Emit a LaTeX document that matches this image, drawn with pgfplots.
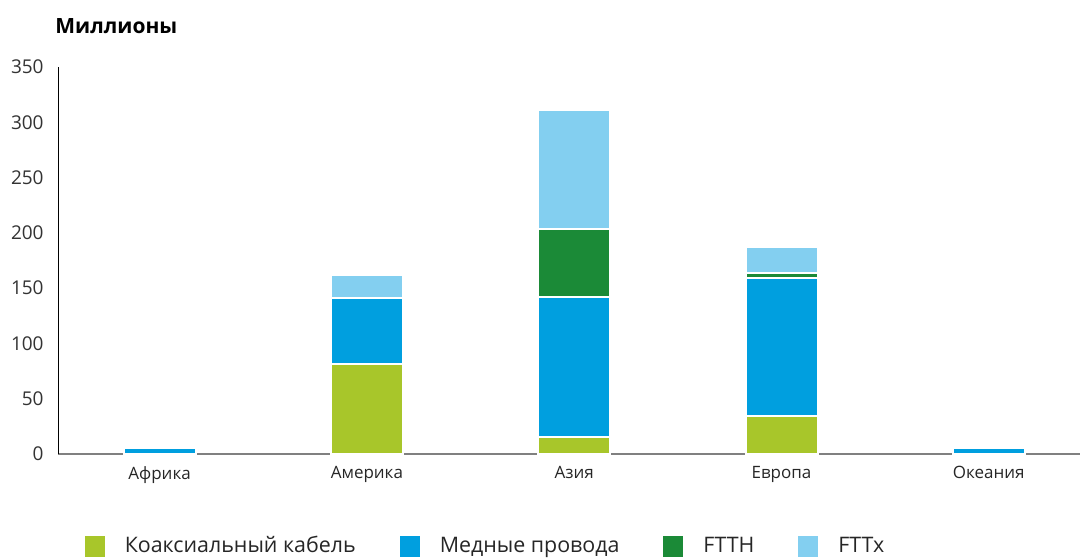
\documentclass[border=0pt]{standalone}
\usepackage{pgfplots}
\pgfplotsset{compat=1.18}
\usepackage{fontspec}
\setmainfont{Open Sans}

\definecolor{coax}{HTML}{A8C62A}
\definecolor{copper}{HTML}{009FDF}
\definecolor{ftth}{HTML}{1B8A37}
\definecolor{fttx}{HTML}{83CFF0}

\begin{document}
\begin{tikzpicture}
\path[use as bounding box] (-29pt,-51.5pt) rectangle (511pt,227pt);
\begin{axis}[
  at={(0,0)}, anchor=south west,
  scale only axis,
  width=511pt, height=193.5pt,
  ybar stacked,
  bar width=36pt,
  xmin=-0.49, xmax=4.44,
  ymin=0, ymax=350,
  ytick={0,50,...,350},
  xtick=data,
  xticklabels={Африка,Америка,Азия,Европа,Океания},
  axis x line*=bottom,
  axis y line*=left,
  x axis line style={draw=gray, line width=1pt},
  y axis line style={draw=black, line width=0.5pt},
  major tick length=0pt,
  tick style={draw=none},
  /pgf/number format/assume math mode=true,
  yticklabel style={font=\fontsize{9.5}{11}\selectfont, text=black!80, inner sep=0pt, xshift=-7pt},
  xticklabel style={font=\fontsize{8.5}{10}\selectfont, text=black!85, inner sep=0pt, yshift=-6pt},
  legend columns=4,
  legend style={draw=none, fill=none, at={(0.018,-0.238)}, anchor=west,
    font=\fontsize{10.7}{12}\selectfont, text=black!85,
    /tikz/every odd column/.append style={column sep=7pt},
    /tikz/every even column/.append style={column sep=19pt}},
  legend image code/.code={\fill[#1] (0pt,-5.75pt) rectangle (11pt,5.75pt);},
  every axis plot/.append style={draw=white, line width=1pt},
]
\addplot[fill=coax] coordinates {(0,0) (1,81) (2,15) (3,34) (4,0)};
\addlegendentry{Коаксиальный кабель}
\addplot[fill=copper] coordinates {(0,5.5) (1,60.5) (2,127) (3,125) (4,5)};
\addlegendentry{Медные провода}
\addplot[fill=ftth] coordinates {(0,0) (1,0) (2,61.5) (3,4.5) (4,0)};
\addlegendentry{FTTH}
\addplot[fill=fttx] coordinates {(0,0) (1,20.5) (2,107.5) (3,23.5) (4,0)};
\addlegendentry{FTTx}
\end{axis}
\node[anchor=west, inner sep=0pt, font=\bfseries\fontsize{10.5}{12}\selectfont] at (-1.5pt,214pt) {Миллионы};
\end{tikzpicture}
\end{document}
